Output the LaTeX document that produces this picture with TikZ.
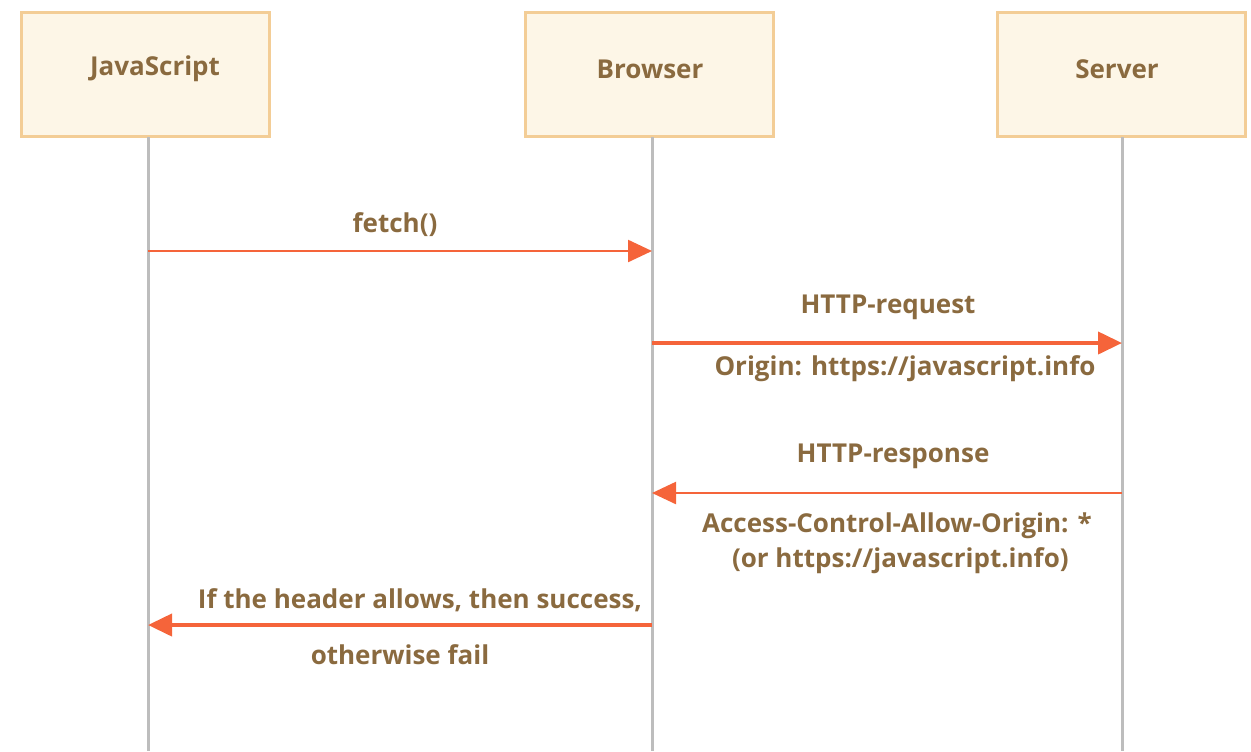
\documentclass[tikz,border=0pt]{standalone}
\usepackage{fontspec}
\setmainfont{Open Sans}
\usetikzlibrary{arrows.meta}
\definecolor{boxfill}{HTML}{FDF6E7}
\definecolor{boxline}{HTML}{F3CD96}
\definecolor{txt}{HTML}{8A6A3F}
\definecolor{life}{HTML}{BDBDBD}
\definecolor{arr}{HTML}{F5643A}
\begin{document}
\begin{tikzpicture}[x=0.5pt,y=-0.5pt,
  actor/.style={draw=boxline,line width=1.5pt,fill=boxfill,minimum width=124pt,minimum height=62pt,inner sep=0pt,font=\bfseries\fontsize{13}{15}\selectfont,text=txt},
  lifeline/.style={draw=life,line width=1.5pt},
  msg/.style={draw=arr,line width=1.2pt,-{Triangle[length=12pt,width=11pt]}},
  msgthick/.style={draw=arr,line width=2pt,-{Triangle[length=12pt,width=11pt]}},
  lbl/.style={font=\bfseries\fontsize{13}{17.5}\selectfont,text=txt,inner sep=0pt,align=center}]
\useasboundingbox (0,0) rectangle (1251,751);
\node[actor] (js) at (145,74) {};
\node[actor] (br) at (649,74) {};
\node[actor] (sv) at (1121,74) {};
\node[lbl] (jst) at (155,69) {JavaScript};
\node[lbl] (brt) at (650,69) {Browser};
\node[lbl] (svt) at (1117,69) {Server};
\coordinate (jsE) at (148,751);
\coordinate (brE) at (652,751);
\coordinate (svE) at (1122,751);
\draw[lifeline] (148,137) -- (jsE);
\draw[lifeline] (652,137) -- (brE);
\draw[lifeline] (1122,137) -- (svE);
\coordinate (a1s) at (148,251);
\coordinate (a1e) at (652,251);
\coordinate (a2s) at (652,343);
\coordinate (a2e) at (1122,343);
\coordinate (a3s) at (1122,493);
\coordinate (a3e) at (652,493);
\coordinate (a4s) at (652,625);
\coordinate (a4e) at (148,625);
\draw[msg] (a1s) -- (a1e);
\draw[msgthick] (a2s) -- (a2e);
\draw[msg] (a3s) -- (a3e);
\draw[msgthick] (a4s) -- (a4e);
\node[lbl] (l1) at (395,225) {fetch()};
\node[lbl] (l2) at (888,307) {HTTP-request};
\node[lbl] (l3) at (905,369) {Origin: https://javascript.info};
\node[lbl] (l4) at (893,456) {HTTP-response};
\node[lbl] (l5) at (897,543) {Access-Control-Allow-Origin: *\\\ (or https://javascript.info)};
\node[lbl] (l6) at (420,600) {If the header allows, then success,};
\node[lbl] (l7) at (400,655) {otherwise fail};
\end{tikzpicture}
\end{document}
